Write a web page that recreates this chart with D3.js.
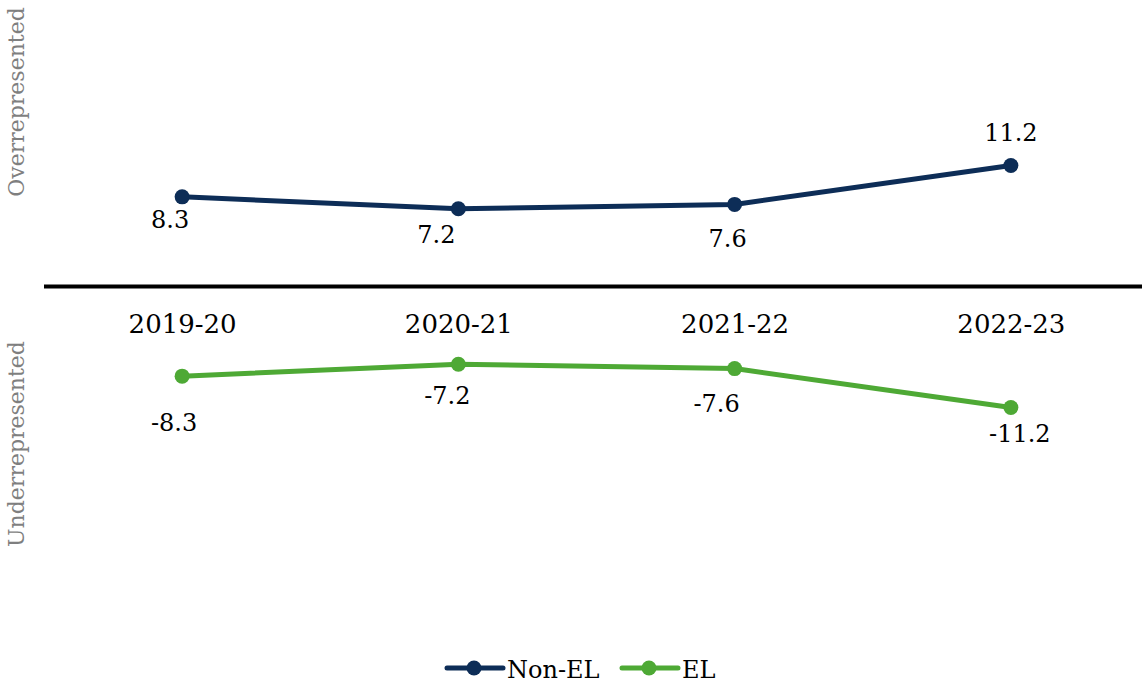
<!DOCTYPE html>
<html>
<head>
<meta charset="utf-8">
<script src="https://cdn.jsdelivr.net/npm/d3@7"></script>
<style>
  body { margin: 0; background: #fff; }
  svg { display: block; font-family: "DejaVu Serif", serif; }
</style>
</head>
<body>
<div id="chart"></div>
<script>
// chart data
const years = ["2019-20", "2020-21", "2021-22", "2022-23"];
const nonEL = [8.3, 7.2, 7.6, 11.2];
const el = [-8.3, -7.2, -7.6, -11.2];
const seriesNames = ["Non-EL", "EL"];
const seriesColors = ["#0d2d57", "#4ea935"];

// label nudges (Excel-style manual placement)
const nonElLabelDx = [-12, -22, -7, 0];
const nonElLabelDy = [31, 34, 43, -25];
const elLabelDx = [-8, -11, -18, 9];
const elLabelDy = [55, 40, 43, 35];

var width = 1142, height = 683;

var svg = d3.select("#chart")
  .append("svg")
    .attr("width", width)
    .attr("height", height);

var x = d3.scalePoint()
  .domain(years)
  .range([44, 1149])
  .padding(0.5);

var y = d3.scaleLinear()
  .domain([-25, 25])
  .range([286.5 + 270, 286.5 - 270]);

// axis titles
svg.append("text")
  .attr("transform", "translate(24," + 102 + ") rotate(-90)")
  .attr("text-anchor", "middle")
  .style("font-size", "22px")
  .style("fill", "#7f7f7f")
  .text("Overrepresented");

svg.append("text")
  .attr("transform", "translate(24," + 444 + ") rotate(-90)")
  .attr("text-anchor", "middle")
  .style("font-size", "22px")
  .style("fill", "#7f7f7f")
  .text("Underrepresented");

// zero line with category labels below it
var xAxis = svg.append("g")
  .attr("transform", "translate(0," + y(0) + ")")
  .call(d3.axisBottom(x).tickSize(0).tickPadding(0));
xAxis.select(".domain").remove();
svg.append("line")
  .attr("x1", 44).attr("x2", width)
  .attr("y1", y(0)).attr("y2", y(0))
  .attr("stroke", "#000")
  .attr("stroke-width", 4);
xAxis.selectAll("text")
  .attr("y", 333 - y(0))
  .attr("dy", 0)
  .style("font-family", "DejaVu Serif, serif")
  .style("font-size", "26px")
  .style("fill", "#000");

var line = d3.line()
  .x(function(d, i) { return x(years[i]); })
  .y(function(d) { return y(d); });

function drawSeries(values, color, dxs, dys) {
  svg.append("path")
    .datum(values)
    .attr("fill", "none")
    .attr("stroke", color)
    .attr("stroke-width", 5)
    .attr("stroke-linejoin", "round")
    .attr("d", line);

  svg.selectAll(null)
    .data(values)
    .enter()
    .append("circle")
    .attr("cx", function(d, i) { return x(years[i]); })
    .attr("cy", function(d) { return y(d); })
    .attr("r", 7.5)
    .attr("fill", color);

  svg.selectAll(null)
    .data(values)
    .enter()
    .append("text")
    .attr("x", function(d, i) { return x(years[i]) + dxs[i]; })
    .attr("y", function(d, i) { return y(d) + dys[i]; })
    .attr("text-anchor", "middle")
    .style("font-size", "24px")
    .style("fill", "#000")
    .text(function(d) { return d.toFixed(1); });
}

drawSeries(nonEL, seriesColors[0], nonElLabelDx, nonElLabelDy);
drawSeries(el, seriesColors[1], elLabelDx, elLabelDy);

// legend
var legendX = [447, 622];
var legend = svg.selectAll(".legend")
  .data(seriesNames)
  .enter()
  .append("g")
  .attr("class", "legend")
  .attr("transform", function(d, i) { return "translate(" + legendX[i] + ",668)"; });

legend.append("line")
  .attr("x1", 0).attr("x2", 56)
  .attr("stroke", function(d, i) { return seriesColors[i]; })
  .attr("stroke-width", 5)
  .attr("stroke-linecap", "round");
legend.append("circle")
  .attr("cx", 27).attr("r", 7.5)
  .attr("fill", function(d, i) { return seriesColors[i]; });
legend.append("text")
  .attr("x", 60)
  .attr("y", 10)
  .style("font-size", "24px")
  .style("fill", "#000")
  .text(function(d) { return d; });
</script>
</body>
</html>
